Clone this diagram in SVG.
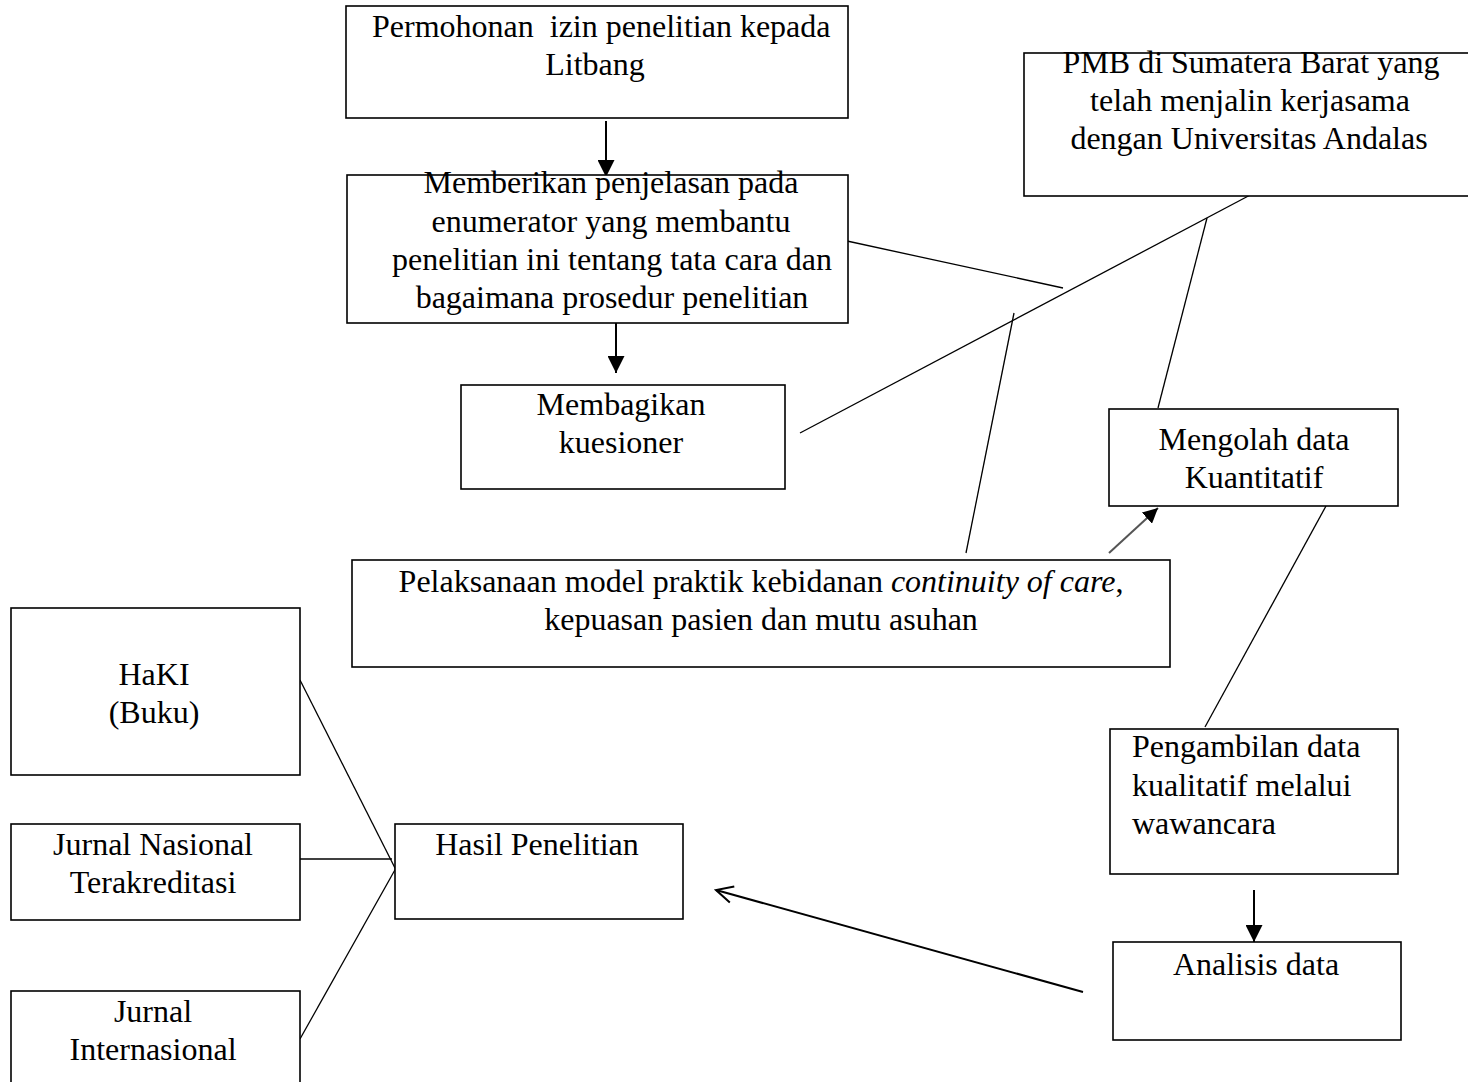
<svg xmlns="http://www.w3.org/2000/svg" width="1468" height="1082" viewBox="0 0 1468 1082">
<defs>
<style>
.box{fill:#fff;stroke:#000;stroke-width:1.6}
.t{font-family:"Liberation Serif","Times New Roman",serif;font-size:32px;fill:#000}
.c{text-anchor:middle}
.ln{stroke:#000;stroke-width:1.3;fill:none}
.ar{stroke:#000;stroke-width:2;fill:none}
</style>
<marker id="triL" viewBox="0 0 10 10" refX="10" refY="5" markerWidth="17" markerHeight="17" markerUnits="userSpaceOnUse" orient="auto">
<path d="M0,0 L10,5 L0,10 z" fill="#000"/>
</marker>
<marker id="triS" viewBox="0 0 10 10" refX="10" refY="5" markerWidth="15" markerHeight="15" markerUnits="userSpaceOnUse" orient="auto">
<path d="M0,0 L10,5 L0,10 z" fill="#000"/>
</marker>
<marker id="open" viewBox="0 0 12 12" refX="11" refY="6" markerWidth="20" markerHeight="20" markerUnits="userSpaceOnUse" orient="auto">
<path d="M1,1 L11,6 L1,11" fill="none" stroke="#000" stroke-width="1.2"/>
</marker>
</defs>
<rect width="1468" height="1082" fill="#fff"/>

<g id="connectors">
<line class="ar" x1="606" y1="121" x2="606" y2="177" marker-end="url(#triL)"/>
<line class="ar" x1="616" y1="318" x2="616" y2="373" marker-end="url(#triL)"/>
<line class="ln" x1="847" y1="241" x2="1063" y2="288"/>
<line class="ln" x1="800" y1="433" x2="1254" y2="193"/>
<line class="ln" x1="1014" y1="313" x2="966" y2="553"/>
<line class="ln" x1="1207" y1="218" x2="1158" y2="408"/>
<line x1="1109" y1="553" x2="1158" y2="508" stroke="#555" stroke-width="2" marker-end="url(#triS)"/>
<line class="ln" x1="1326" y1="506" x2="1205" y2="727"/>
<line class="ar" x1="1254" y1="890" x2="1254" y2="942" marker-end="url(#triL)"/>
<line class="ar" x1="1083" y1="992" x2="716" y2="890" marker-end="url(#open)"/>
<line class="ln" x1="300" y1="680" x2="396" y2="870"/>
<line class="ln" x1="300" y1="859" x2="392" y2="859"/>
<line class="ln" x1="300" y1="1039" x2="396" y2="868"/>
</g>

<g id="n-permohonan">
<rect class="box" x="346" y="6" width="502" height="112"/>
<text class="t" x="372" y="37" style="white-space:pre">Permohonan  izin penelitian kepada</text>
<text class="t c" x="595" y="75">Litbang</text>
</g>

<g id="n-memberikan">
<rect class="box" x="347" y="175" width="501" height="148"/>
<text class="t c" x="611" y="193">Memberikan penjelasan pada</text>
<text class="t c" x="611" y="232">enumerator yang membantu</text>
<text class="t c" x="612" y="270">penelitian ini tentang tata cara dan</text>
<text class="t c" x="612" y="308">bagaimana prosedur penelitian</text>
</g>

<g id="n-membagikan">
<rect class="box" x="461" y="385" width="324" height="104"/>
<text class="t c" x="621" y="415">Membagikan</text>
<text class="t c" x="621" y="453">kuesioner</text>
</g>

<g id="n-pmb">
<rect class="box" x="1024" y="53" width="460" height="143"/>
<text class="t c" x="1251" y="73">PMB di Sumatera Barat yang</text>
<text class="t c" x="1250" y="111">telah menjalin kerjasama</text>
<text class="t c" x="1249" y="149">dengan Universitas Andalas</text>
</g>

<g id="n-mengolah">
<rect class="box" x="1109" y="409" width="289" height="97"/>
<text class="t c" x="1254" y="450">Mengolah data</text>
<text class="t c" x="1254" y="488">Kuantitatif</text>
</g>

<g id="n-pelaksanaan">
<rect class="box" x="352" y="560" width="818" height="107"/>
<text class="t c" x="761" y="592">Pelaksanaan model praktik kebidanan <tspan font-style="italic">continuity of care</tspan>,</text>
<text class="t c" x="761" y="630">kepuasan pasien dan mutu asuhan</text>
</g>

<g id="n-pengambilan">
<rect class="box" x="1110" y="729" width="288" height="145"/>
<text class="t" x="1132" y="757">Pengambilan data</text>
<text class="t" x="1132" y="796">kualitatif melalui</text>
<text class="t" x="1132" y="834">wawancara</text>
</g>

<g id="n-analisis">
<rect class="box" x="1113" y="942" width="288" height="98"/>
<text class="t c" x="1256" y="975">Analisis data</text>
</g>

<g id="n-hasil">
<rect class="box" x="395" y="824" width="288" height="95"/>
<text class="t c" x="537" y="855">Hasil Penelitian</text>
</g>

<g id="n-haki">
<rect class="box" x="11" y="608" width="289" height="167"/>
<text class="t c" x="154" y="685">HaKI</text>
<text class="t c" x="154" y="723">(Buku)</text>
</g>

<g id="n-nasional">
<rect class="box" x="11" y="824" width="289" height="96"/>
<text class="t c" x="153" y="855">Jurnal Nasional</text>
<text class="t c" x="153" y="893">Terakreditasi</text>
</g>

<g id="n-internasional">
<rect class="box" x="11" y="991" width="289" height="110"/>
<text class="t c" x="153" y="1022">Jurnal</text>
<text class="t c" x="153" y="1060">Internasional</text>
</g>
</svg>
